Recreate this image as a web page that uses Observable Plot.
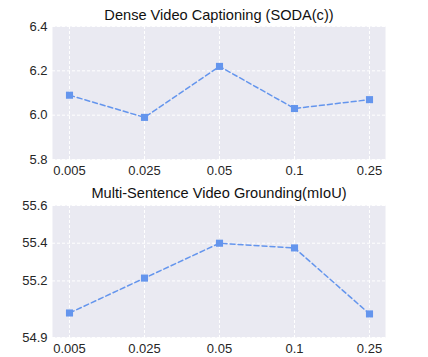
<!DOCTYPE html>
<html>
<head>
<meta charset="utf-8">
<script src="https://cdn.jsdelivr.net/npm/d3@7"></script>
<script src="https://cdn.jsdelivr.net/npm/@observablehq/plot@0.6"></script>
<style>
  html, body { margin: 0; padding: 0; background: #fff; }
  #chart { width: 428px; }
  #chart svg { display: block; }
</style>
</head>
<body>
<div id="chart"></div>
<script>
const xLabels = ["0.005", "0.025", "0.05", "0.1", "0.25"];
const sodaValues = [6.09, 5.99, 6.22, 6.03, 6.07];
const mIoUValues = [55.03, 55.215, 55.40, 55.375, 55.025];
const sodaTicks = [5.8, 6.0, 6.2, 6.4];
const mIoUTicks = [54.9, 55.2, 55.4, 55.6];
const titles = ["Dense Video Captioning (SODA(c))", "Multi-Sentence Video Grounding(mIoU)"];

const color = "#6495ED";

function panel(values, ticks, domain, title, height, marginTop, marginBottom, titleDy) {
  const data = xLabels.map((x, i) => ({x, y: values[i]}));
  return Plot.plot({
    width: 428,
    height,
    marginTop,
    marginBottom,
    marginLeft: 52,
    marginRight: 43,
    style: {fontFamily: "'Liberation Sans', Arial, sans-serif", fontSize: "13px", color: "#262626", background: "white", overflow: "visible"},
    x: {type: "point", domain: xLabels, padding: 0.2},
    y: {domain},
    marks: [
      Plot.frame({fill: "#EAEAF2", stroke: null}),
      Plot.ruleX(xLabels, {stroke: "white", strokeDasharray: "3,2", strokeWidth: 1}),
      Plot.ruleY(ticks, {stroke: "white", strokeDasharray: "3,2", strokeWidth: 1}),
      Plot.axisX({tickSize: 0, tickPadding: 6, label: null, fontSize: 13}),
      Plot.axisY({ticks, tickSize: 0, tickPadding: 5, tickFormat: d3.format(".1f"), label: null, fontSize: 13}),
      Plot.line(data, {x: "x", y: "y", stroke: color, strokeWidth: 1.5, strokeDasharray: "5,3"}),
      Plot.dot(data, {x: "x", y: "y", symbol: "square", r: 4, fill: color, stroke: null}),
      Plot.text([title], {frameAnchor: "top", lineAnchor: "middle", dy: titleDy, fontSize: 14.6, fill: "#111"})
    ]
  });
}

const chart = document.getElementById("chart");
chart.appendChild(panel(sodaValues, sodaTicks, [5.8, 6.4], titles[0], 180, 26, 21, -11.5));
chart.appendChild(panel(mIoUValues, mIoUTicks, [54.9, 55.6], titles[1], 177, 25, 20, -12.5));
</script>
</body>
</html>
